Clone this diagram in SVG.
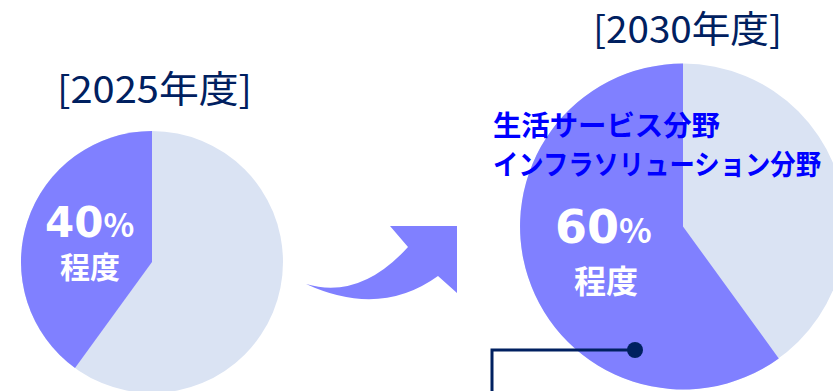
<svg xmlns="http://www.w3.org/2000/svg" width="833" height="391" viewBox="0 0 833 391">
<style>
.light{fill:#DAE3F3}
.purple{fill:#8080FF}
.year{font-family:"Noto Sans CJK JP","Noto Sans",sans-serif;font-size:37px;fill:#002060}
.pct{font-family:"Noto Sans CJK JP","Noto Sans",sans-serif;font-weight:bold;fill:#FFFFFF}
.num{font-family:"DejaVu Sans","Noto Sans",sans-serif;font-weight:bold}
.blue{font-family:"Noto Sans CJK JP","Noto Sans",sans-serif;font-weight:bold;font-size:28px;fill:#0000FF}
</style>
<rect width="833" height="391" fill="#FFFFFF"/>
<g id="pie2025">
<circle class="light" cx="152" cy="262" r="131"/>
<path class="purple" d="M152 262 L152 131 A131 131 0 0 0 75 368 Z"/>
<text class="year" x="57" y="103" textLength="195" lengthAdjust="spacingAndGlyphs">[2025年度]</text>
<text class="pct" x="45" y="237"><tspan class="num" font-size="42">40</tspan><tspan font-size="32">%</tspan></text>
<text class="pct" x="90" y="278" text-anchor="middle" font-size="30">程度</text>
</g>
<g id="pie2030">
<circle class="light" cx="683" cy="226.5" r="163"/>
<path class="purple" d="M683 226.5 L683 63.5 A163 163 0 1 0 778.8 358.4 Z"/>
<text class="year" x="593" y="43" textLength="189" lengthAdjust="spacingAndGlyphs">[2030年度]</text>
<text class="pct" x="555" y="243"><tspan class="num" font-size="46">60</tspan><tspan font-size="34">%</tspan></text>
<text class="pct" x="606" y="293" text-anchor="middle" font-size="32">程度</text>
</g>
<g id="label">
<text class="blue" x="493" y="136" textLength="227" lengthAdjust="spacingAndGlyphs">生活サービス分野</text>
<text class="blue" transform="translate(493,175) scale(0.905,1)" x="0" y="0">インフラソリューション分野</text>
</g>
<g id="connectors">
<path d="M306 284 Q360 300 408 247 L390 226 L457 226 L457 293 L438 276 Q380 318 306 284 Z" fill="#8080FF"/>
<polyline points="492,391 492,350 635,350" fill="none" stroke="#002060" stroke-width="3"/>
<circle cx="635" cy="350" r="8" fill="#002060"/>
</g>
</svg>
